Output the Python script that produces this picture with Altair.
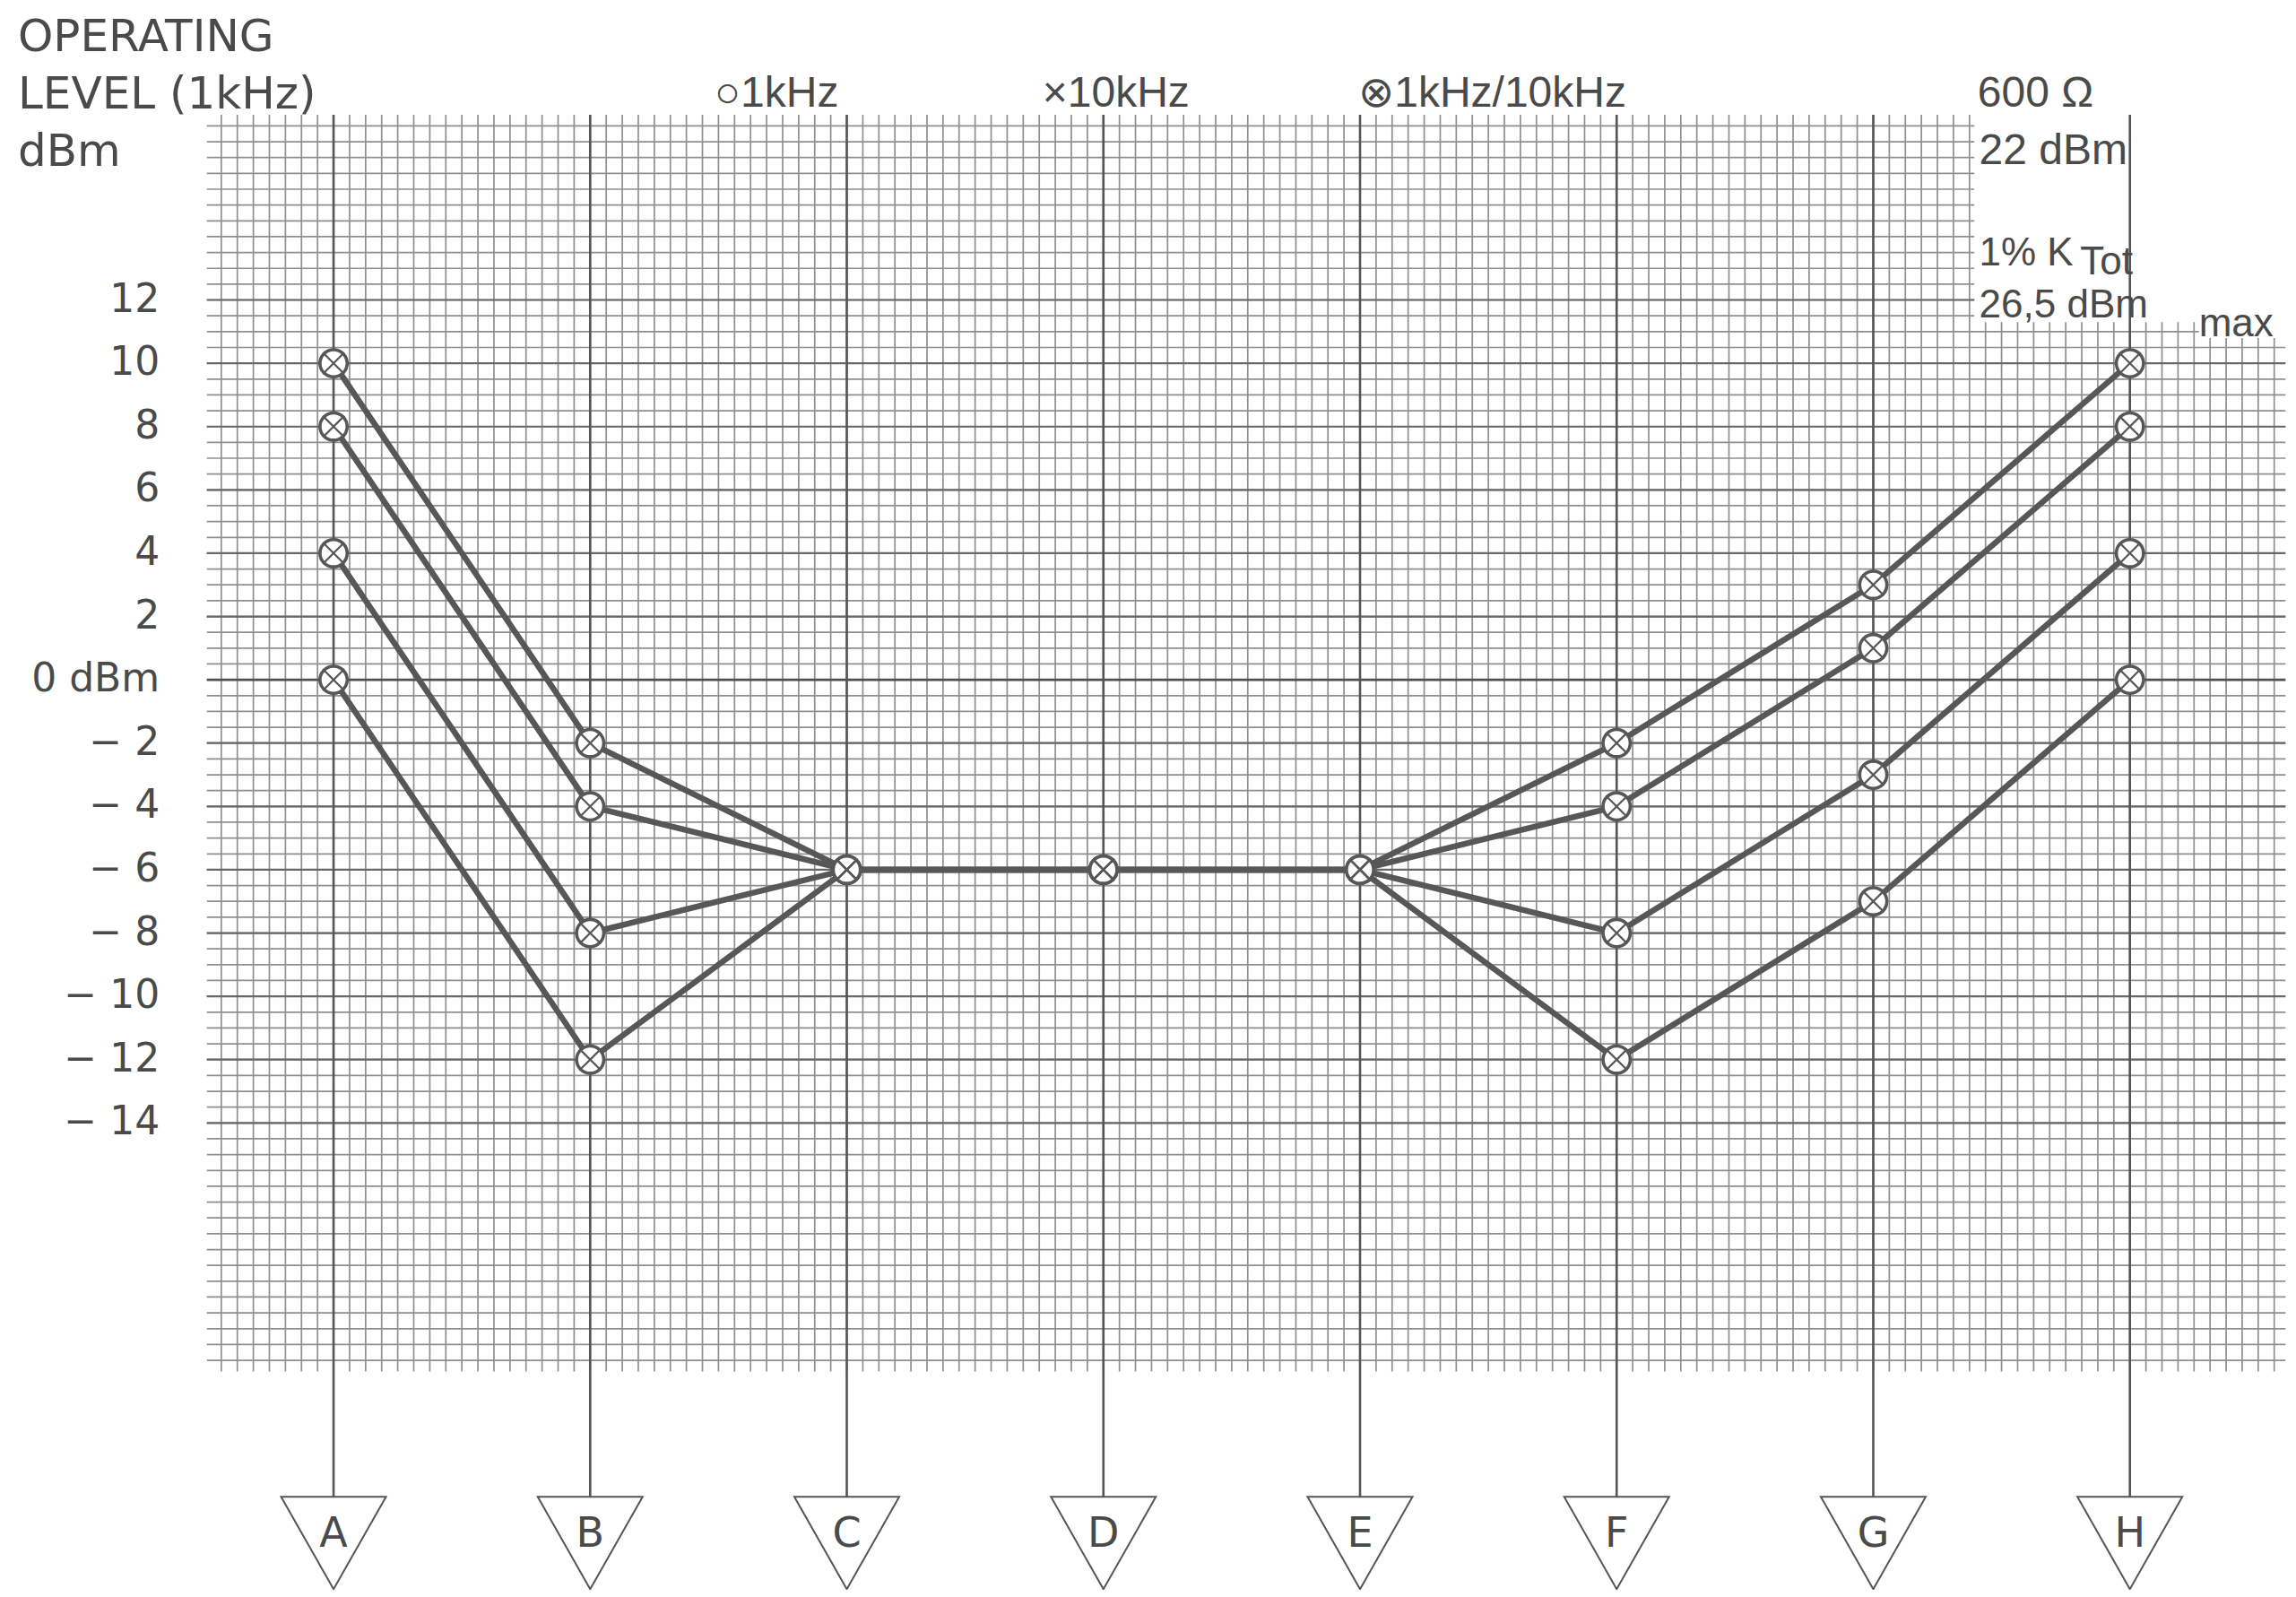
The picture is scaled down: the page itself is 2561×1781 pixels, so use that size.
import altair as alt
import pandas as pd

# ---------------- data ----------------
categories = ["A", "B", "C", "D", "E", "F", "G", "H"]
series_names = ["curve 1", "curve 2", "curve 3", "curve 4"]
curve_1 = [10, -2, -6, -6, -6, -2, 3, 10]
curve_2 = [8, -4, -6, -6, -6, -4, 1, 8]
curve_3 = [4, -8, -6, -6, -6, -8, -3, 4]
curve_4 = [0, -12, -6, -6, -6, -12, -7, 0]
y_tick_values = [12, 10, 8, 6, 4, 2, 0, -2, -4, -6, -8, -10, -12, -14]
y_tick_labels = ["12", "10", "8", "6", "4", "2", "0 dBm", "− 2", "− 4", "− 6",
                 "− 8", "− 10", "− 12", "− 14"]

# ---------------- layout ----------------
STEP = 16                      # graph-paper cells between two categories
X_DOMAIN = [-20.35, 121.91]    # in graph-paper cells (A = 0)
Y_DOMAIN = [-28.75, 21.25]     # dBm
W, H = 2545, 1765
SANS = "Liberation Sans"
WIDE = "DejaVu Sans"
TXT = "#4a4a4a"
INK = "#575757"

xs = alt.Scale(domain=X_DOMAIN, nice=False, zero=False)
ys = alt.Scale(domain=Y_DOMAIN, nice=False, zero=False)

cat_df = pd.DataFrame({"cat": categories,
                       "u": [i * STEP for i in range(len(categories))]})
cat_df["top"] = 17.85
cat_df["bot"] = -25.81
cat_df["tri_y"] = -27.27
cat_df["let_y"] = -27.0

rows = []
for name, vals in zip(series_names, [curve_1, curve_2, curve_3, curve_4]):
    for i, (c, v) in enumerate(zip(categories, vals)):
        rows.append({"series": name, "cat": c, "u": i * STEP, "v": v})
pts = pd.DataFrame(rows)

# graph paper
v_rows = []
for u in range(-7, 103):
    v_rows.append({"u": u, "y1": -21.85, "y2": 17.85})
for u in range(103, 117):
    v_rows.append({"u": u, "y1": -21.85, "y2": 11.3})
for u in range(117, 122):
    v_rows.append({"u": u, "y1": -21.85, "y2": 10.8})
vgrid = pd.DataFrame(v_rows)


def h_extent(d):
    if d > 11.0:
        return 102.3
    if d > 10.5:
        return 116.3
    return 121.7


hgrid = pd.DataFrame([{"d": k / 2, "x1": -7.9, "x2": h_extent(k / 2)} for k in range(-43, 36)])
major = pd.DataFrame([{"d": d, "x1": -7.9, "x2": h_extent(d)} for d in y_tick_values if d != 0])
zero_line = pd.DataFrame([{"d": 0, "x1": -7.9, "x2": h_extent(0)}])


def X(f):
    return alt.X(f, scale=xs, axis=None)


def Y(f):
    return alt.Y(f, scale=ys, axis=None)


vg = alt.Chart(vgrid).mark_rule(color="#8f8f8f", strokeWidth=1.7).encode(
    x=X("u:Q"), y=Y("y1:Q"), y2="y2:Q")
hg = alt.Chart(hgrid).mark_rule(color="#8f8f8f", strokeWidth=1.7).encode(
    y=Y("d:Q"), x=X("x1:Q"), x2="x2:Q")
hm = alt.Chart(major).mark_rule(color="#686868", strokeWidth=2.2).encode(
    y=Y("d:Q"), x=X("x1:Q"), x2="x2:Q")
hz = alt.Chart(zero_line).mark_rule(color="#505050", strokeWidth=2.6).encode(
    y=Y("d:Q"), x=X("x1:Q"), x2="x2:Q")

cat_lines = alt.Chart(cat_df).mark_rule(color="#555555", strokeWidth=2.6).encode(
    x=X("u:Q"), y=Y("top:Q"), y2="bot:Q")

curves = alt.Chart(pts).mark_line(color=INK, strokeWidth=6.5, strokeCap="round").encode(
    x=X("u:Q"), y=Y("v:Q"), detail="series:N", order="u:Q")

circ = alt.Chart(pts).mark_point(shape="circle", size=920, filled=True, fill="white",
                                 stroke=INK, strokeWidth=3.6, opacity=1).encode(
    x=X("u:Q"), y=Y("v:Q"))
cross = alt.Chart(pts).mark_point(shape="M-0.7,-0.7L0.7,0.7M-0.7,0.7L0.7,-0.7", size=1150,
                                  filled=False, stroke=INK, strokeWidth=2.2, opacity=1).encode(
    x=X("u:Q"), y=Y("v:Q"))

tri = alt.Chart(cat_df).mark_point(shape="M-1,-0.88L1,-0.88L0,0.88Z", size=13689, filled=True,
                                   fill="white", stroke="#555555", strokeWidth=2, opacity=1).encode(
    x=X("u:Q"), y=Y("tri_y:Q"))
tri_txt = alt.Chart(cat_df).mark_text(font=WIDE, fontSize=46, color=TXT, baseline="middle",
                                      align="center").encode(
    x=X("u:Q"), y=Y("let_y:Q"), text="cat:N")

ylab_df = pd.DataFrame({"v": y_tick_values, "label": y_tick_labels})
ylab_df["u"] = -10.84
ylab = alt.Chart(ylab_df).mark_text(font=WIDE, fontSize=44, color=TXT, align="right",
                                    baseline="middle").encode(
    x=X("u:Q"), y=Y("v:Q"), text="label:N")

# title block (upper left)
title_text = ["OPERATING", "LEVEL (1kHz)", "dBm"]
title_u = [-19.68, -19.68, -19.68]
title_d = [19.86, 18.05, 16.23]
title_df = pd.DataFrame({"t": title_text, "u": title_u, "d": title_d})
title_layer = alt.Chart(title_df).mark_text(font=WIDE, fontSize=50, color=TXT, align="left",
                                            baseline="alphabetic").encode(
    x=X("u:Q"), y=Y("d:Q"), text="t:N")

# legend-like labels along the top and notes on the right
ann_text = ["○1kHz", "×10kHz", "⊗1kHz/10kHz", "600 Ω", "22 dBm"]
ann_u = [23.76, 44.2, 63.9, 102.5, 102.6]
ann_d = [18.1, 18.1, 18.1, 18.1, 16.3]
ann = pd.DataFrame({"t": ann_text, "u": ann_u, "d": ann_d})
ann_layer = alt.Chart(ann).mark_text(font=SANS, fontSize=48, color=TXT, align="left",
                                     baseline="alphabetic").encode(
    x=X("u:Q"), y=Y("d:Q"), text="t:N")

note_text = ["1% K", "Tot", "26,5 dBm", "max"]
note_u = [102.6, 108.9, 102.6, 116.3]
note_d = [13.08, 12.82, 11.44, 10.85]
note = pd.DataFrame({"t": note_text, "u": note_u, "d": note_d})
note_layer = alt.Chart(note).mark_text(font=SANS, fontSize=44, color=TXT, align="left",
                                       baseline="alphabetic").encode(
    x=X("u:Q"), y=Y("d:Q"), text="t:N")

chart = alt.layer(vg, hg, hm, hz, cat_lines, curves, circ, cross, tri, tri_txt, ylab,
                  title_layer, ann_layer, note_layer).properties(
    width=W, height=H, padding=0, background="white",
    autosize=alt.AutoSizeParams(type="none"),
).configure_view(stroke=None)

chart.save("out.html", embed_options={"renderer": "svg", "actions": False})
